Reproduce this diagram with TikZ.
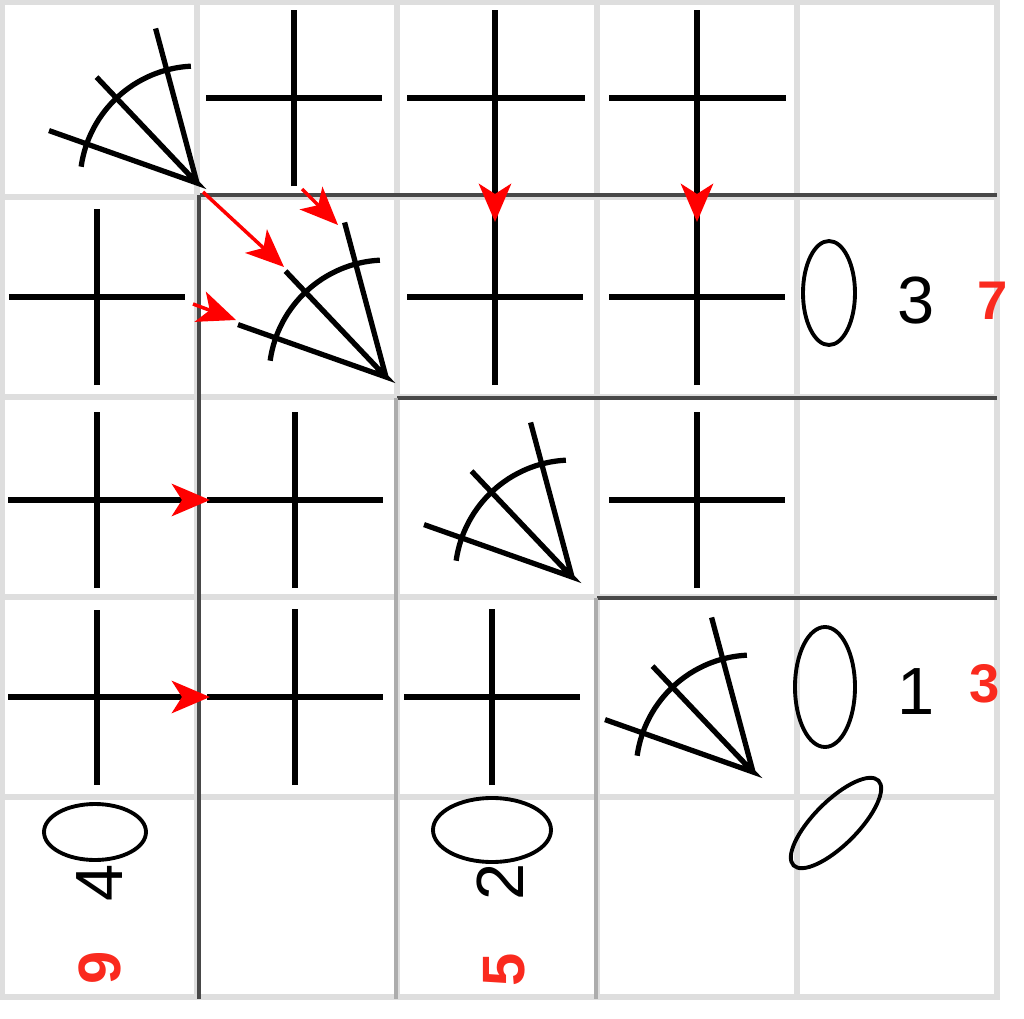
\documentclass[tikz,border=0pt]{standalone}
\usepackage{fontspec}
\setmainfont{Liberation Sans}
\usetikzlibrary{arrows.meta}
\definecolor{gridgray}{RGB}{222,222,222}
\definecolor{midgray}{RGB}{172,172,172}
\definecolor{darkline}{RGB}{72,72,72}
\definecolor{numred}{RGB}{250,42,30}

\begin{document}
\begin{tikzpicture}[line cap=butt,x=1.0cm,y=1.0cm,
    stitch/.style={line width=1.7pt},
    fanline/.style={line width=1.5pt},
    ring/.style={line width=1.1pt},
    num/.style={font=\fontsize{19}{19}\selectfont, inner sep=0pt},
    rnum/.style={font=\fontsize{15.5}{15.5}\selectfont\bfseries, text=numred, inner sep=0pt},
    rnumbig/.style={rnum, font=\fontsize{17}{17}\selectfont\bfseries},
    redtip/.style={-{Stealth[color=red,length=0.38cm,width=0.32cm,inset=0.1cm]}},
    redarrow/.style={red, line width=1pt, -{Stealth[length=0.38cm,width=0.32cm,inset=0.1cm]}},
    sc/.pic={\draw[stitch] (-0.88,0) -- (0.88,0) (0,-0.88) -- (0,0.88);},
    fan/.pic={
      \draw[fanline] (160.5:1.57) -- (0,0) -- (133.5:1.46) (0,0) -- (105:1.6);
      \draw[fanline] (172:1.17) arc[start angle=172, end angle=93, radius=1.17];}
  ]
    \useasboundingbox (0,0) rectangle (10.24,-10.19);
    \fill[white] (0,0) rectangle (10.24,-10.19);

    % grid
    \foreach \p in {0.02,1.97,3.97,5.97,7.97,9.97} {
      \draw[gridgray, line width=1.7pt] (\p,0) -- (\p,-10.0);
      \draw[gridgray, line width=1.7pt] (0,-\p) -- (10.0,-\p);
    }

    % staircase
    \draw[darkline, line width=1pt] (2.00,-1.95) -- (9.97,-1.95);
    \draw[darkline, line width=0.9pt] (1.99,-1.95) -- (1.99,-9.99);
    \draw[darkline, line width=1pt] (3.97,-3.98) -- (9.97,-3.98);
    \draw[midgray, line width=1.4pt] (3.96,-3.98) -- (3.96,-9.99);
    \draw[darkline, line width=1pt] (5.97,-5.98) -- (9.97,-5.98);
    \draw[midgray, line width=1.4pt] (5.96,-5.98) -- (5.96,-9.99);

    % single crochet
    \pic at (2.94,-0.98) {sc};
    \pic at (0.97,-2.97) {sc};
    \pic at (4.95,-2.97) {sc};
    \pic at (6.97,-2.97) {sc};
    \pic at (2.95,-5.00) {sc};
    \pic at (6.97,-5.00) {sc};
    \pic at (2.95,-6.97) {sc};
    \pic at (4.92,-6.97) {sc};

    % stitches with a red tip
    \draw[stitch] (4.07,-0.98) -- (5.85,-0.98);
    \draw[stitch, redtip] (4.95,-0.10) -- (4.95,-2.22);
    \draw[stitch] (6.09,-0.98) -- (7.86,-0.98);
    \draw[stitch, redtip] (6.97,-0.10) -- (6.97,-2.22);
    \draw[stitch] (0.97,-4.12) -- (0.97,-5.88);
    \draw[stitch, redtip] (0.08,-5.00) -- (2.10,-5.00);
    \draw[stitch] (0.97,-6.10) -- (0.97,-7.85);
    \draw[stitch, redtip] (0.08,-6.97) -- (2.10,-6.97);

    % fans
    \coordinate (f1) at (1.97,-1.83);
    \coordinate (f2) at (3.86,-3.77);
    \coordinate (f3) at (5.72,-5.77);
    \coordinate (f4) at (7.53,-7.72);
    \foreach \f in {f1,f2,f3,f4}
      \pic at (\f) {fan};

    % arrows into the fan
    \coordinate (a1) at (2.03,-1.92);
    \coordinate (a2) at (2.84,-2.67);
    \coordinate (b1) at (3.02,-1.89);
    \coordinate (b2) at (3.38,-2.25);
    \coordinate (c1) at (1.93,-3.04);
    \coordinate (c2) at (2.36,-3.20);
    \draw[redarrow] (a1) -- (a2);
    \draw[redarrow] (b1) -- (b2);
    \draw[redarrow] (c1) -- (c2);

    % chains
    \draw[ring] (8.29,-2.93) ellipse[x radius=0.26, y radius=0.52];
    \draw[ring] (8.25,-6.87) ellipse[x radius=0.30, y radius=0.60];
    \draw[ring, rotate around={45:(8.36,-8.23)}] (8.36,-8.23) ellipse[x radius=0.60, y radius=0.22];
    \draw[ring] (0.95,-8.32) ellipse[x radius=0.51, y radius=0.28];
    \draw[ring] (4.92,-8.30) ellipse[x radius=0.59, y radius=0.32];

    % row numbers
    \node[num] (n3) at (9.16,-3.01) {3};
    \node[rnum] (m7) at (9.93,-3.01) {7};
    \node[num] (n1) at (9.16,-6.92) {1};
    \node[rnum] (m3) at (9.85,-6.84) {3};
    \node[num, rotate=90] (n4) at (1.00,-8.83) {4};
    \node[rnumbig, rotate=90] (m9) at (1.00,-9.68) {9};
    \node[num, rotate=90] (n2) at (5.00,-8.82) {2};
    \node[rnumbig, rotate=90] (m5) at (5.04,-9.70) {5};
\end{tikzpicture}
\end{document}
